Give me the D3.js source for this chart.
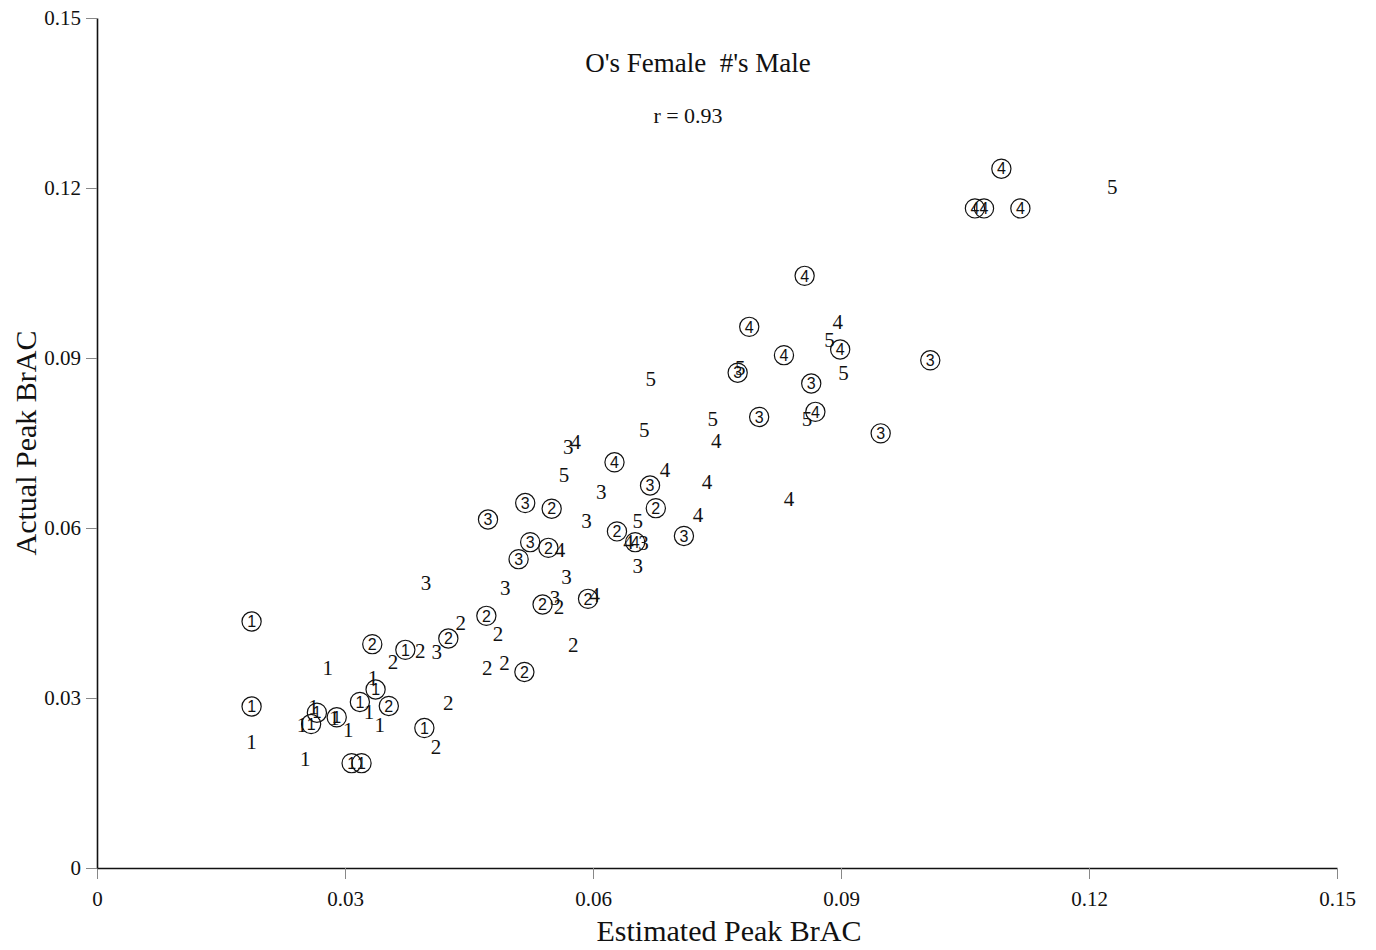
<!DOCTYPE html>
<html>
<head>
<meta charset="utf-8">
<script src="https://cdn.jsdelivr.net/npm/d3@7"></script>
<style>
  body { margin: 0; background: #fff; }
  svg text { font-family: "Liberation Serif", "Times New Roman", serif; fill: #111; }
  .tick line { stroke: #888; }
  .domain { stroke: #111; stroke-width: 1.6; }
</style>
</head>
<body>
<div id="chart"></div>
<script>
// Estimated vs actual peak BrAC, [estimated, actual]
// females (circled digits), by group
const female1 = [[0.0187,0.0435],[0.0187,0.0285],[0.0266,0.0274],[0.0259,0.0254],[0.0290,0.0266],[0.0318,0.0293],
  [0.0337,0.0315],[0.0373,0.0385],[0.0396,0.0247],[0.0308,0.0185],[0.0320,0.0185]];
const female2 = [[0.0333,0.0395],[0.0353,0.0286],[0.0425,0.0405],[0.0471,0.0445],[0.0517,0.0346],[0.0539,0.0465],
  [0.0594,0.0475],[0.0550,0.0634],[0.0546,0.0565],[0.0629,0.0594],[0.0676,0.0635]];
const female3 = [[0.0518,0.0644],[0.0473,0.0615],[0.0524,0.0575],[0.0510,0.0545],[0.0669,0.0675],[0.0710,0.0586],
  [0.0775,0.0874],[0.0801,0.0796],[0.0864,0.0855],[0.1008,0.0896],[0.0948,0.0767]];
const female4 = [[0.0651,0.0575],[0.0626,0.0716],[0.0856,0.1045],[0.0789,0.0955],[0.0831,0.0905],[0.0899,0.0915],
  [0.0869,0.0805],[0.1094,0.1234],[0.1062,0.1164],[0.1073,0.1164],[0.1117,0.1164]];
// males (plain digits), by group
const male1 = [[0.0279,0.0353],[0.0187,0.0223],[0.0252,0.0192],[0.0248,0.0252],[0.0262,0.0285],[0.0287,0.0265],
  [0.0304,0.0244],[0.0329,0.0276],[0.0334,0.0335],[0.0342,0.0252]];
const male2 = [[0.0358,0.0364],[0.0391,0.0383],[0.0440,0.0433],[0.0425,0.0292],[0.0410,0.0214],[0.0485,0.0413],
  [0.0472,0.0354],[0.0493,0.0362],[0.0559,0.0461],[0.0576,0.0394]];
const male3 = [[0.0411,0.0382],[0.0398,0.0503],[0.0494,0.0494],[0.0568,0.0514],[0.0554,0.0477],[0.0570,0.0743],
  [0.0610,0.0664],[0.0592,0.0613],[0.0654,0.0533],[0.0661,0.0573]];
const male4 = [[0.0579,0.0752],[0.0560,0.0562],[0.0602,0.0482],[0.0643,0.0575],[0.0687,0.0702],[0.0738,0.0682],
  [0.0727,0.0623],[0.0749,0.0753],[0.0837,0.0652],[0.0896,0.0964]];
const male5 = [[0.0670,0.0863],[0.0662,0.0773],[0.0745,0.0792],[0.0654,0.0612],[0.0859,0.0792],[0.0565,0.0694],
  [0.0886,0.0932],[0.0903,0.0873],[0.0778,0.0882],[0.1228,0.1202]];

const tickVals = [0, 0.03, 0.06, 0.09, 0.12, 0.15];
const titleText = "O's Female  #'s Male";
const rText = "r = 0.93";
const xTitle = "Estimated Peak BrAC";
const yTitle = "Actual Peak BrAC";

const W = 1376, H = 950;
const plotLeft = 97, plotRight = 1337, plotTop = 18, plotBottom = 868;

const svg = d3.select('#chart').append('svg')
  .attr('width', W).attr('height', H);

const x = d3.scaleLinear().domain([0, 0.15]).range([plotLeft, plotRight]);
const y = d3.scaleLinear().domain([0, 0.15]).range([plotBottom, plotTop]);
const fmt = d => d === 0 ? '0' : d3.format('.2f')(d);

// axes
svg.append('g')
  .attr('transform', 'translate(0,' + plotBottom + ')')
  .call(d3.axisBottom(x).tickValues(tickVals).tickFormat(fmt).tickSize(11).tickPadding(12).tickSizeOuter(0))
  .call(g => g.selectAll('text').style('font-size', '21px'));

svg.append('g')
  .attr('transform', 'translate(' + plotLeft + ',0)')
  .call(d3.axisLeft(y).tickValues(tickVals).tickFormat(fmt).tickSize(11).tickPadding(5).tickSizeOuter(0))
  .call(g => g.selectAll('text').style('font-size', '21px'));

svg.selectAll('.domain').attr('stroke', '#111');

// titles
svg.append('text')
  .attr('x', 698).attr('y', 72)
  .attr('text-anchor', 'middle')
  .style('font-size', '27px')
  .style('white-space', 'pre')
  .text(titleText);

svg.append('text')
  .attr('x', 688).attr('y', 123)
  .attr('text-anchor', 'middle')
  .style('font-size', '22px')
  .text(rText);

svg.append('text')
  .attr('x', 729).attr('y', 941)
  .attr('text-anchor', 'middle')
  .style('font-size', '30px')
  .text(xTitle);

svg.append('text')
  .attr('transform', 'translate(36,443) rotate(-90)')
  .attr('text-anchor', 'middle')
  .style('font-size', '30px')
  .text(yTitle);

// build point lists
const females = [female1, female2, female3, female4]
  .flatMap((arr, i) => arr.map(d => ({ x: d[0], y: d[1], g: i + 1 })));
const males = [male1, male2, male3, male4, male5]
  .flatMap((arr, i) => arr.map(d => ({ x: d[0], y: d[1], g: i + 1 })));

// males: plain digits
svg.append('g').selectAll('text')
  .data(males)
  .enter().append('text')
  .attr('x', d => x(d.x))
  .attr('y', d => y(d.y))
  .attr('dy', '0.34em')
  .attr('text-anchor', 'middle')
  .style('font-size', '21px')
  .text(d => d.g);

// females: circled digits
const fg = svg.append('g').selectAll('g')
  .data(females)
  .enter().append('g')
  .attr('transform', d => 'translate(' + x(d.x) + ',' + y(d.y) + ')');

fg.append('circle')
  .attr('r', 9.6)
  .attr('fill', 'none')
  .attr('stroke', '#111')
  .attr('stroke-width', 1.2);

fg.append('text')
  .attr('dy', '0.36em')
  .attr('text-anchor', 'middle')
  .style('font-family', '"Liberation Sans", Arial, sans-serif')
  .style('font-size', '16px')
  .text(d => d.g);
</script>
</body>
</html>
